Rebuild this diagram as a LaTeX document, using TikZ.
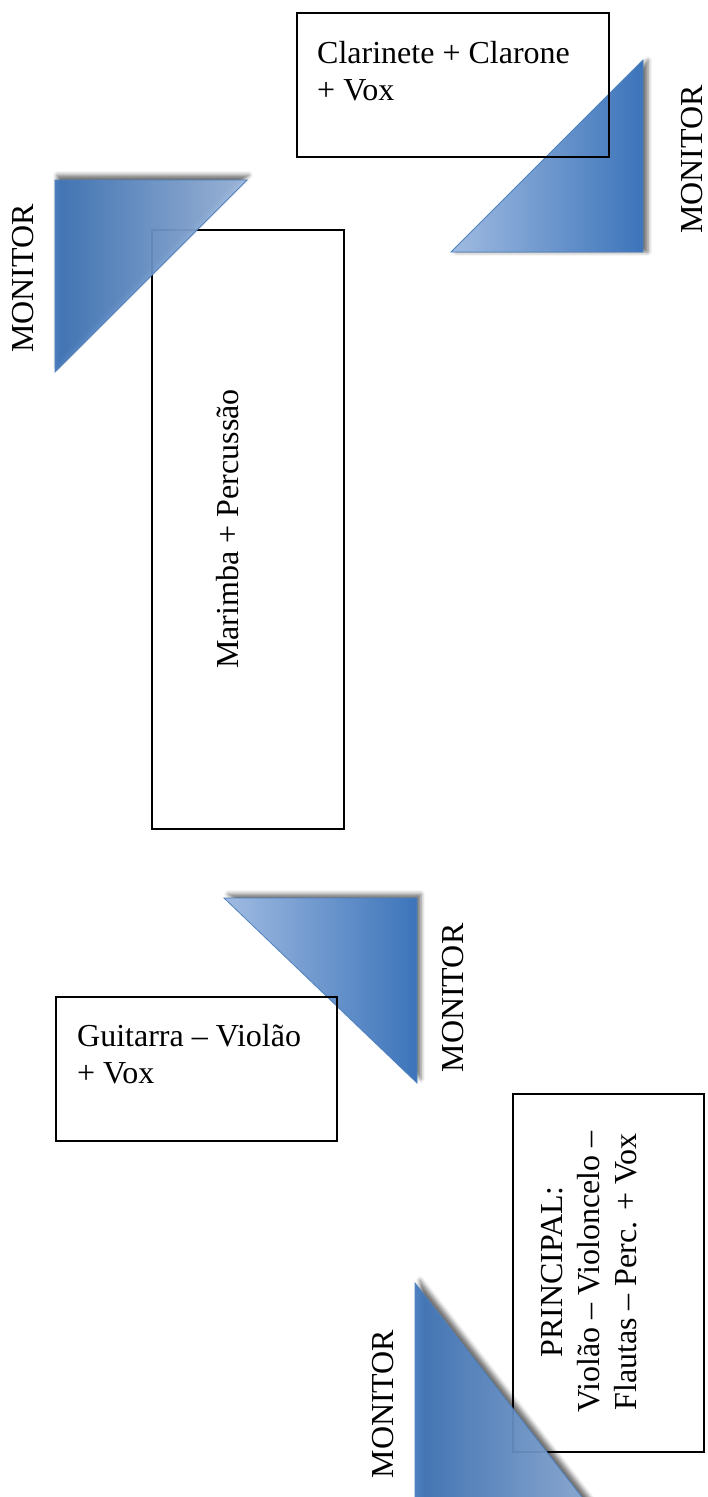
\documentclass[tikz,border=0pt]{standalone}
\usepackage{fontspec}
\setmainfont{Liberation Serif}
\usetikzlibrary{shadows.blur}
\definecolor{mondark}{HTML}{3C74BA}
\definecolor{monlight}{HTML}{A0BBE1}
\definecolor{monedge}{HTML}{4F81BD}
\begin{document}
\begin{tikzpicture}[x=1pt,y=-1pt,
  stagebox/.style={draw=black, line width=1.6pt, anchor=north west, inner sep=0pt},
  txt/.style={font=\fontsize{32}{37}\selectfont, inner sep=0pt},
  mon/.style={txt, rotate=90, anchor=base},
  tri/.style={draw=monedge, line width=0.8pt},
  sh/.style n args={2}{blur shadow={shadow xshift=#1, shadow yshift=#2, shadow blur radius=4pt, shadow opacity=55}}]
\useasboundingbox (0,0) rectangle (707,1497);
\clip (0,0) rectangle (707,1497);

% triangles drawn below boxes
\path[tri, sh={5pt}{0pt}, left color=monlight, right color=mondark] (643,60) -- (643,252) -- (451,252) -- cycle;
\path[tri, sh={4pt}{4pt}, left color=monlight, right color=mondark] (224,898) -- (417,898) -- (417,1083) -- cycle;

% boxes
\node[stagebox, minimum width=312pt, minimum height=144pt] (clar) at (296,12) {};
\node[stagebox, minimum width=192pt, minimum height=599pt] (mar) at (151,229) {};
\node[stagebox, minimum width=281pt, minimum height=144pt] (gui) at (55,996) {};
\node[stagebox, minimum width=191pt, minimum height=358pt] (pri) at (512,1093) {};

% triangles drawn above boxes
\path[tri, sh={2pt}{5pt}, left color=mondark, right color=monlight, fill opacity=0.9] (55,180) -- (247,180) -- (55,372) -- cycle;
\path[tri, sh={5pt}{3pt}, left color=mondark, right color=monlight, fill opacity=0.9] (415,1283) -- (415,1555) -- (627,1555) -- cycle;

% texts
\node[txt, anchor=north west, align=left] (clartxt) at (317,41) {Clarinete + Clarone\\+ Vox};
\node[txt, anchor=north west, align=left] (guitxt) at (77,1024) {Guitarra – Violão\\+ Vox};
\node[txt, rotate=90, anchor=base] (martxt) at (238,529) {Marimba + Percussão};
\node[txt, rotate=90, align=center] (pritxt) at (589,1272) {PRINCIPAL:\\Violão – Violoncelo –\\Flautas – Perc. + Vox};

\node[mon] (mon1) at (702,159.5) {MONITOR};
\node[mon] (mon2) at (33,278.5) {MONITOR};
\node[mon] (mon3) at (463,998) {MONITOR};
\node[mon] (mon4) at (393,1404) {MONITOR};
\end{tikzpicture}
\end{document}
